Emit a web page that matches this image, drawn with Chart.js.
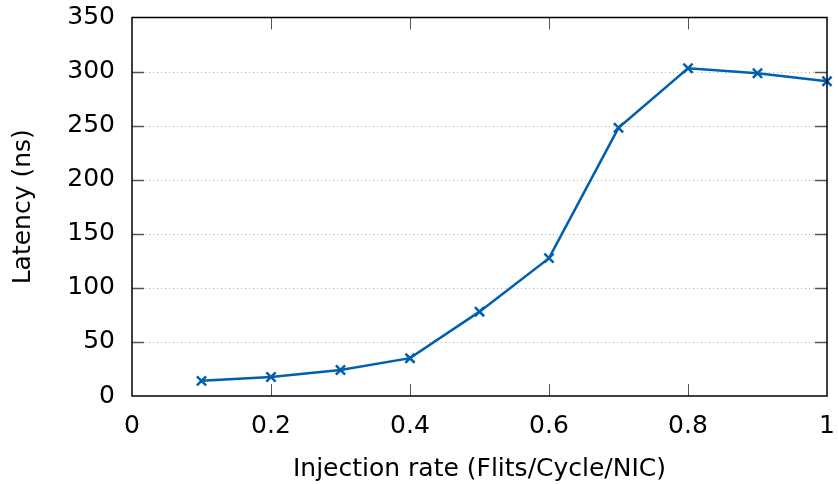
<!DOCTYPE html>
<html>
<head>
<meta charset="utf-8">
<script src="https://cdn.jsdelivr.net/npm/chart.js@4.4.0/dist/chart.umd.min.js"></script>
<style>
  html, body { margin: 0; padding: 0; background: #fff; }
  #wrap { width: 838px; height: 484px; position: relative; }
</style>
</head>
<body>
<div id="wrap"><canvas id="c"></canvas></div>
<script>
// Injection rate vs latency
const rates = [0.1, 0.2, 0.3, 0.4, 0.5, 0.6, 0.7, 0.8, 0.9, 1.0];
const latency = [14, 17.5, 24, 35, 78, 127.5, 248, 303, 298.5, 291];
const xTicks = [0, 0.2, 0.4, 0.6, 0.8, 1];
const yTicks = [0, 50, 100, 150, 200, 250, 300, 350];
const yTitle = 'Latency (ns)';

const BLUE = '#0060ad';
const FONT = { family: 'DejaVu Sans', size: 25 };
const TICK_LEN = 12;

// gnuplot-ish frame: dotted y grid, inward ticks on all four sides
const framePlugin = {
  id: 'frame',
  beforeDatasetsDraw(chart) {
    const { ctx, chartArea: a, scales: { y } } = chart;
    ctx.save();
    ctx.strokeStyle = '#b0b0b0';
    ctx.lineWidth = 1;
    ctx.setLineDash([1, 3]);
    yTicks.slice(1, -1).forEach(v => {
      const py = Math.round(y.getPixelForValue(v)) + 0.5;
      ctx.beginPath();
      ctx.moveTo(a.left + TICK_LEN + 1, py);
      ctx.lineTo(a.right - TICK_LEN - 1, py);
      ctx.stroke();
    });
    ctx.restore();
  },
  afterDraw(chart) {
    const { ctx, chartArea: a, scales: { x, y } } = chart;
    ctx.save();
    ctx.strokeStyle = '#555';
    ctx.lineWidth = 1.5;
    yTicks.slice(1, -1).forEach(v => {
      const py = Math.round(y.getPixelForValue(v)) + 0.5;
      ctx.beginPath();
      ctx.moveTo(a.left, py); ctx.lineTo(a.left + TICK_LEN, py);
      ctx.moveTo(a.right, py); ctx.lineTo(a.right - TICK_LEN, py);
      ctx.stroke();
    });
    ctx.lineWidth = 1;
    xTicks.slice(1, -1).forEach(v => {
      const px = Math.round(x.getPixelForValue(v)) + 0.5;
      ctx.beginPath();
      ctx.moveTo(px, a.bottom); ctx.lineTo(px, a.bottom - TICK_LEN);
      ctx.moveTo(px, a.top); ctx.lineTo(px, a.top + TICK_LEN);
      ctx.stroke();
    });
    ctx.strokeStyle = '#000';
    ctx.lineWidth = 1.5;
    ctx.strokeRect(a.left, a.top, a.right - a.left, a.bottom - a.top);

    // y title, centred on the plot area
    ctx.fillStyle = '#000';
    ctx.font = FONT.size + 'px "' + FONT.family + '"';
    ctx.textAlign = 'center';
    ctx.textBaseline = 'middle';
    ctx.translate(23, (a.top + a.bottom) / 2);
    ctx.rotate(-Math.PI / 2);
    ctx.fillText(yTitle, 0, 0);
    ctx.restore();
  }
};

document.addEventListener('DOMContentLoaded', () => {
  new Chart(document.getElementById('c'), {
    type: 'line',
    data: {
      datasets: [{
        data: rates.map((r, i) => ({ x: r, y: latency[i] })),
        borderColor: BLUE,
        backgroundColor: BLUE,
        borderWidth: 2.5,
        pointStyle: 'crossRot',
        pointRadius: 6.5,
        pointBorderWidth: 2.5,
        pointBorderColor: BLUE,
        tension: 0,
        clip: false,
      }],
    },
    options: {
      responsive: true,
      maintainAspectRatio: false,
      animation: false,
      layout: { padding: { top: 17.5, right: 11, left: 0, bottom: 0 } },
      plugins: { legend: { display: false }, tooltip: { enabled: false } },
      scales: {
        x: {
          type: 'linear',
          min: 0, max: 1,
          afterBuildTicks: s => { s.ticks = xTicks.map(v => ({ value: v })); },
          afterFit: s => {
            s.height = 88;
            s.paddingLeft = 0; s.paddingRight = 0;
          },
          grid: { display: false, drawTicks: false },
          border: { display: false },
          ticks: {
            color: '#000', font: FONT, padding: 15, maxRotation: 0,
            callback: v => String(v),
          },
          title: {
            display: true, text: 'Injection rate (Flits/Cycle/NIC)',
            color: '#000', font: FONT, padding: { top: 0, bottom: 0 },
          },
        },
        y: {
          min: 0, max: 350,
          afterBuildTicks: s => { s.ticks = yTicks.map(v => ({ value: v })); },
          afterFit: s => {
            s.width = 132;
            s.paddingTop = 0; s.paddingBottom = 0;
          },
          grid: { display: false, drawTicks: false },
          border: { display: false },
          ticks: { color: '#000', font: FONT, padding: 17 },
        },
      },
    },
    plugins: [framePlugin],
  });
});
</script>
</body>
</html>
